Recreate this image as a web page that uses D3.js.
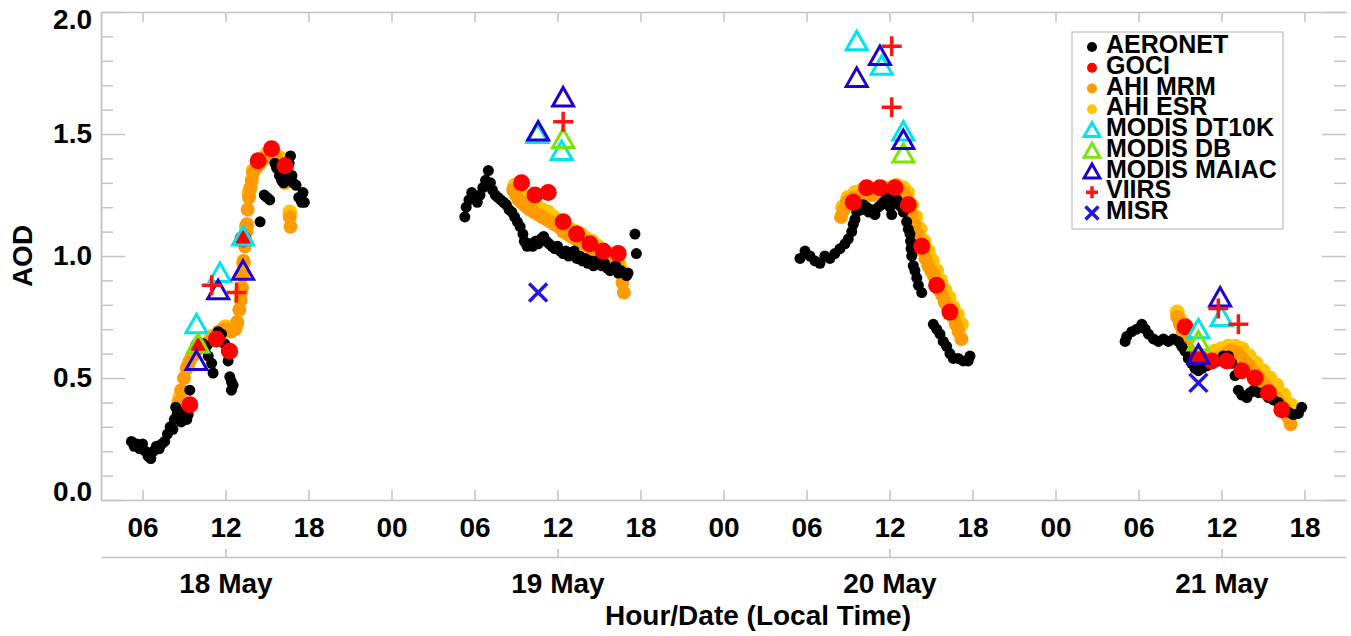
<!DOCTYPE html>
<html><head><meta charset="utf-8">
<script src="https://cdn.jsdelivr.net/npm/d3@7"></script>
<style>
html,body{margin:0;padding:0;background:#fff;}
svg text{font-family:"Liberation Sans",Arial,Helvetica,sans-serif;font-weight:bold;fill:#000;}
</style></head><body>
<svg id="c" width="1351" height="636"></svg>
<script>
// hours counted from 18 May 00:00 local time, AOD value
const aeronet = [
 [5.2,0.24],[5.4,0.22],[5.6,0.23],[5.8,0.21],[6.0,0.23],[6.2,0.20],[6.4,0.18],[6.6,0.17],[6.8,0.20],[7.0,0.22],
 [7.2,0.21],[7.4,0.23],[7.6,0.24],[7.8,0.27],[8.0,0.30],[8.2,0.29],[8.3,0.33],[8.4,0.38],[8.5,0.35],[8.7,0.36],
 [8.8,0.32],[9.0,0.34],[9.2,0.33],[9.3,0.35],[9.42,0.45],[10.38,0.64],[10.63,0.63],[10.75,0.59],[11.0,0.56],[11.1,0.52],
 [11.47,0.69],[11.71,0.68],[11.95,0.64],[12.07,0.61],[12.19,0.57],[12.31,0.505],[12.43,0.485],[12.55,0.47],[12.43,0.45],
 [14.5,1.14],[14.8,1.25],[15.0,1.24],[15.2,1.23],[15.57,1.38],[15.7,1.36],[15.9,1.33],[16.05,1.31],[16.2,1.30],[16.35,1.33],
 [16.5,1.32],[16.6,1.38],[16.7,1.41],[16.8,1.33],[16.9,1.30],[17.1,1.29],[17.3,1.24],[17.5,1.22],[17.6,1.26],[17.7,1.22],
 [29.3,1.16],[29.4,1.20],[29.6,1.23],[29.8,1.26],[30.0,1.24],[30.2,1.22],[30.4,1.25],[30.6,1.28],[30.8,1.31],[31.0,1.35],
 [31.15,1.30],[31.3,1.27],[31.5,1.25],[31.7,1.24],[31.9,1.23],[32.1,1.22],[32.3,1.21],[32.5,1.19],[32.7,1.18],[32.9,1.16],
 [33.1,1.14],[33.3,1.12],[33.5,1.09],[33.6,1.06],[33.8,1.04],[34.0,1.05],[34.2,1.04],[34.4,1.06],[34.6,1.05],[34.8,1.07],
 [35.0,1.08],[35.2,1.06],[35.4,1.05],[35.6,1.04],[35.8,1.03],[36.0,1.04],[36.2,1.02],[36.4,1.01],[36.6,1.02],[36.8,1.00],
 [37.0,1.01],[37.2,1.02],[37.4,0.99],[37.6,1.00],[37.8,0.98],[38.0,0.99],[38.2,0.97],[38.4,0.98],[38.6,0.96],[38.8,0.98],
 [39.0,0.97],[39.2,0.96],[39.4,0.97],[39.6,0.95],[39.8,0.94],[40.0,0.95],[40.2,0.96],[40.4,0.93],[40.6,0.94],[40.8,0.93],
 [41.0,0.92],[41.1,0.93],[41.6,1.09],[41.7,1.01],
 [53.53,0.99],[53.89,1.02],[54.25,1.00],[54.61,0.98],[54.97,0.97],[55.33,1.00],[55.69,0.99],[56.05,1.01],[56.42,1.03],[56.78,1.05],
 [57.02,1.07],[57.27,1.10],[57.38,1.13],[57.5,1.15],[57.63,1.18],[57.8,1.19],[57.99,1.19],[58.1,1.21],[58.35,1.20],[58.5,1.18],
 [58.71,1.19],[58.95,1.17],[59.19,1.20],[59.4,1.21],[59.55,1.22],[59.8,1.24],[60.04,1.20],[60.16,1.17],[60.3,1.24],[60.4,1.22],
 [60.55,1.23],[60.69,1.21],[60.85,1.20],[61.0,1.18],[61.24,1.14],[61.36,1.11],[61.48,1.09],[61.52,1.06],[61.56,1.03],[61.61,1.00],
 [61.72,0.96],[61.84,0.94],[61.97,0.91],[62.09,0.88],[62.33,0.85],[63.17,0.72],[63.41,0.70],[63.65,0.68],[63.89,0.65],[64.13,0.63],
 [64.37,0.60],[64.61,0.58],[64.97,0.58],[65.33,0.57],[65.69,0.57],[65.82,0.59],
 [77.03,0.65],[77.15,0.67],[77.51,0.69],[77.87,0.70],[78.24,0.72],[78.48,0.70],[78.72,0.68],[79.08,0.66],[79.44,0.65],[79.8,0.66],
 [80.16,0.65],[80.52,0.66],[80.88,0.65],[81.12,0.63],[81.36,0.61],[81.6,0.58],[81.84,0.56],[82.08,0.54],[82.33,0.53],[82.6,0.54],
 [82.94,0.55],[83.18,0.57],[83.42,0.57],[83.78,0.57],[84.14,0.59],[84.5,0.59],[84.75,0.56],[84.98,0.51],[85.22,0.45],[85.47,0.43],
 [85.83,0.42],[86.07,0.44],[86.31,0.45],[86.67,0.44],[87.03,0.44],[87.39,0.42],[87.75,0.41],[88.11,0.40],[88.48,0.38],[88.84,0.36],
 [89.2,0.35],[89.56,0.355],[89.8,0.38]
];
const goci = [
 [9.42,0.39],[10.05,0.63],[11.35,0.66],[12.3,0.61],[13.27,1.07],[14.36,1.39],[15.33,1.44],[16.3,1.37],
 [33.4,1.30],[34.37,1.25],[35.33,1.26],[36.41,1.14],[37.38,1.09],[38.34,1.05],[39.3,1.02],[40.39,1.01],
 [57.38,1.22],[58.35,1.28],[59.31,1.28],[60.4,1.28],[61.36,1.21],[62.33,1.04],[63.41,0.88],[64.37,0.77],
 [81.37,0.71],[82.33,0.59],[83.3,0.57],[84.38,0.57],[85.47,0.53],[86.43,0.50],[87.39,0.44],[88.36,0.37]
];
const ahiMrm = [
 [8.6,0.40],[8.8,0.45],[9.0,0.50],[9.2,0.54],[9.4,0.57],[9.6,0.59],[9.8,0.61],[10.0,0.62],[10.3,0.63],[10.6,0.64],
 [10.9,0.65],[11.2,0.67],[11.5,0.69],[11.8,0.70],[12.1,0.70],[12.4,0.69],[12.7,0.70],[12.85,0.73],[13.0,0.78],[13.1,0.82],
 [13.2,0.87],[13.25,0.92],[13.3,0.98],[13.4,1.04],[13.5,1.10],[13.55,1.13],[13.6,1.19],[13.7,1.24],[13.8,1.28],[13.9,1.31],
 [14.0,1.34],[14.2,1.36],[14.5,1.38],[14.8,1.40],[15.1,1.41],[15.4,1.41],[15.7,1.40],[16.0,1.38],[16.2,1.34],[16.3,1.30],
 [16.45,1.36],[16.65,1.16],[16.7,1.12],
 [32.8,1.27],[33.0,1.25],[33.2,1.23],[33.4,1.22],[33.6,1.21],[33.8,1.20],[34.0,1.19],[34.3,1.18],[34.6,1.17],[34.9,1.16],
 [35.2,1.15],[35.5,1.14],[35.8,1.13],[36.1,1.12],[36.4,1.10],[36.7,1.09],[37.0,1.08],[37.3,1.07],[37.6,1.06],[37.9,1.05],
 [38.2,1.04],[38.5,1.03],[38.8,1.01],[39.1,1.00],[39.4,0.99],[39.7,0.98],[40.0,0.97],[40.3,0.96],[40.55,0.93],[40.7,0.89],[40.8,0.85],
 [56.5,1.16],[56.7,1.19],[56.9,1.22],[57.1,1.23],[57.4,1.24],[57.7,1.24],[58.0,1.25],[58.3,1.26],[58.6,1.25],[58.9,1.25],
 [59.2,1.26],[59.5,1.26],[59.8,1.26],[60.1,1.27],[60.4,1.27],[60.7,1.27],[61.0,1.26],[61.2,1.24],[61.4,1.21],[61.6,1.17],
 [61.8,1.13],[62.0,1.09],[62.2,1.06],[62.4,1.02],[62.6,0.99],[62.8,0.96],[63.0,0.94],[63.2,0.92],[63.4,0.89],[63.6,0.86],
 [63.8,0.84],[64.0,0.81],[64.2,0.79],[64.4,0.77],[64.6,0.75],[64.8,0.72],[65.0,0.69],[65.2,0.66],
 [80.8,0.75],[81.0,0.72],[81.2,0.69],[81.4,0.66],[81.6,0.62],[81.9,0.59],[82.2,0.57],[82.5,0.56],[82.8,0.56],[83.1,0.57],
 [83.4,0.58],[83.7,0.58],[84.0,0.59],[84.3,0.60],[84.6,0.61],[84.9,0.61],[85.2,0.60],[85.5,0.58],[85.8,0.56],[86.1,0.54],
 [86.4,0.52],[86.7,0.50],[87.0,0.48],[87.3,0.46],[87.6,0.44],[87.9,0.42],[88.2,0.40],[88.5,0.37],[88.8,0.34],[89.0,0.31]
];
const ahiEsr = [
 [8.7,0.42],[9.3,0.55],[10.0,0.63],[11.0,0.67],[12.0,0.71],[12.8,0.72],[13.1,0.85],[13.3,0.97],[13.5,1.12],[13.7,1.26],
 [14.0,1.35],[14.5,1.39],[15.0,1.42],[15.5,1.42],[16.0,1.40],[16.4,1.39],[16.65,1.18],
 [32.9,1.29],[33.3,1.26],[33.7,1.24],[34.1,1.22],[34.5,1.20],[34.9,1.19],[35.3,1.18],[35.7,1.16],[36.1,1.14],[36.5,1.13],
 [36.9,1.11],[37.3,1.10],[37.7,1.09],[38.1,1.07],[38.5,1.06],[38.9,1.04],[39.3,1.02],[39.7,1.01],[40.1,0.99],[40.5,0.96],[40.8,0.92],
 [56.6,1.20],[57.0,1.24],[57.5,1.26],[58.0,1.27],[58.5,1.27],[59.0,1.27],[59.5,1.28],[60.0,1.28],[60.5,1.29],[61.0,1.28],
 [61.3,1.26],[61.6,1.21],[61.9,1.16],[62.2,1.11],[62.5,1.06],[62.8,1.02],[63.1,0.98],[63.4,0.94],[63.7,0.90],[64.0,0.86],
 [64.3,0.83],[64.6,0.79],[64.9,0.76],[65.2,0.72],
 [80.8,0.77],[81.0,0.74],[81.3,0.70],[82.4,0.58],[83.0,0.59],[83.5,0.61],[84.0,0.62],[84.5,0.63],[85.0,0.63],[85.5,0.62],
 [86.0,0.59],[86.5,0.56],[87.0,0.53],[87.5,0.50],[88.0,0.47],[88.5,0.43],[89.0,0.39],[89.3,0.36]
];
const modisDt10k = [[9.9,0.72],[11.6,0.93],[13.27,1.08],[34.55,1.50],[36.3,1.43],[57.63,1.88],[59.44,1.78],[61.0,1.51],[82.33,0.70],[84.0,0.75]];
const modisDb = [[10.02,0.64],[36.41,1.48],[61.0,1.42],[82.33,0.65]];
const modisMaiac = [[9.9,0.57],[11.47,0.86],[13.27,0.94],[34.6,1.51],[36.41,1.65],[57.63,1.73],[59.31,1.82],[61.0,1.475],[82.33,0.595],[83.9,0.83]];
const viirs = [[11.0,0.88],[12.8,0.85],[36.41,1.55],[60.16,1.86],[60.16,1.61],[83.77,0.785],[85.22,0.72]];
const misr = [[34.6,0.85],[82.33,0.48]];

const hourTicks = [6,12,18,24,30,36,42,48,54,60,66,72,78,84,90];
const hourLabels = ["06","12","18","00","06","12","18","00","06","12","18","00","06","12","18"];
const dateTicks = [12,36,60,84];
const dateLabels = ["18 May","19 May","20 May","21 May"];
const yMajorTicks = [0,0.5,1.0,1.5,2.0];
const yMinorTicks = [0.1,0.2,0.3,0.4,0.6,0.7,0.8,0.9,1.1,1.2,1.3,1.4,1.6,1.7,1.8,1.9];
const legendNames = ["AERONET","GOCI","AHI MRM","AHI ESR","MODIS DT10K","MODIS DB","MODIS MAIAC","VIIRS","MISR"];

const svg = d3.select("#c");
const x = d3.scaleLinear().domain([3,93]).range([101,1346]);
const y = d3.scaleLinear().domain([0,2]).range([500,12]);
const axisColor = "#c4c4c4";

function styleAxis(g){
  g.selectAll("path.domain").attr("stroke",axisColor).attr("stroke-width",1.5);
  g.selectAll(".tick line").attr("stroke",axisColor).attr("stroke-width",1.5);
  g.selectAll(".tick text").attr("font-size",28).attr("fill","#000");
}

// bottom hour axis
svg.append("g").attr("transform","translate(0,500)")
  .call(d3.axisBottom(x).tickValues(hourTicks).tickFormat((d,i)=>hourLabels[i])
    .tickSizeInner(-10).tickSizeOuter(0).tickPadding(17)).call(styleAxis);
// top axis
svg.append("g").attr("transform","translate(0,12)")
  .call(d3.axisTop(x).tickValues(hourTicks).tickFormat("")
    .tickSizeInner(-10).tickSizeOuter(0)).call(styleAxis);
// date axis
svg.append("g").attr("transform","translate(0,557)")
  .call(d3.axisBottom(x).tickValues(dateTicks).tickFormat((d,i)=>dateLabels[i])
    .tickSizeInner(-8).tickSizeOuter(0).tickPadding(16)).call(styleAxis);
// left axis
const ly = svg.append("g").attr("transform","translate(101,0)")
  .call(d3.axisLeft(y).tickValues(yMajorTicks).tickFormat(d3.format(".1f"))
    .tickSizeInner(-24).tickSizeOuter(0).tickPadding(9)).call(styleAxis);
ly.selectAll(".tick text").attr("transform",d=> d===0 ? "translate(0,-8)" : (d===2 ? "translate(0,8)" : null));
svg.append("g").attr("transform","translate(101,0)")
  .call(d3.axisLeft(y).tickValues(yMinorTicks).tickFormat("")
    .tickSizeInner(-12).tickSizeOuter(0)).call(styleAxis);
// right axis (ticks only)
svg.append("g").attr("transform","translate(1346,0)")
  .call(d3.axisRight(y).tickValues(yMajorTicks).tickFormat("").tickSizeInner(-24).tickSizeOuter(0))
  .call(styleAxis).call(g=>g.select(".domain").remove());
svg.append("g").attr("transform","translate(1346,0)")
  .call(d3.axisRight(y).tickValues(yMinorTicks).tickFormat("").tickSizeInner(-12).tickSizeOuter(0))
  .call(styleAxis).call(g=>g.select(".domain").remove());

// axis titles
svg.append("text").attr("transform","translate(32,256) rotate(-90)")
  .attr("text-anchor","middle").attr("font-size",28).text("AOD");
svg.append("text").attr("x",758).attr("y",625)
  .attr("text-anchor","middle").attr("font-size",28).text("Hour/Date (Local Time)");

// marks
const C = {aeronet:"#000000", goci:"#ff0000", mrm:"#ff9a00", esr:"#ffc400",
           dt:"#00e4f0", db:"#78e600", maiac:"#2000d0", viirs:"#ff1414", misr:"#2418dc"};
const triPath = s => `M0,${-s}L${s*1.05},${s*0.85}L${-s*1.05},${s*0.85}Z`;
const plusPath = s => `M${-s},0H${s}M0,${-s}V${s}`;
const xPath = s => `M${-s},${-s}L${s},${s}M${-s},${s}L${s},${-s}`;

function dots(data, color, r){
  svg.append("g").selectAll("circle").data(data).join("circle")
    .attr("cx",d=>x(d[0])).attr("cy",d=>y(d[1])).attr("r",r).attr("fill",color);
}
function shapes(data, color, path, sw){
  svg.append("g").selectAll("path").data(data).join("path")
    .attr("transform",d=>`translate(${x(d[0])},${y(d[1])})`)
    .attr("d",path).attr("fill","none").attr("stroke",color).attr("stroke-width",sw)
    .attr("stroke-linejoin","miter");
}
dots(ahiEsr, C.esr, 7.5);
dots(ahiMrm, C.mrm, 7);
dots(aeronet, C.aeronet, 5.5);
dots(goci, C.goci, 8.5);
shapes(modisDt10k, C.dt, triPath(10), 3);
shapes(modisDb, C.db, triPath(10), 3);
shapes(modisMaiac, C.maiac, triPath(10), 3);
shapes(viirs, C.viirs, plusPath(10), 3.5);
shapes(misr, C.misr, xPath(9), 3.5);

// legend
const lg = svg.append("g");
lg.append("rect").attr("x",1072).attr("y",32).attr("width",211).attr("height",197)
  .attr("fill","#fff").attr("stroke","#c0c0c0").attr("stroke-width",1.2);
const legendMarks = [
  {t:"dot", c:C.aeronet},{t:"dot", c:C.goci},{t:"dot", c:C.mrm},{t:"dot", c:C.esr},
  {t:"tri", c:C.dt},{t:"tri", c:C.db},{t:"tri", c:C.maiac},{t:"plus", c:C.viirs},{t:"x", c:C.misr}];
const rowY = i => 44 + i*20.75;
legendNames.forEach((name,i)=>{
  const m = legendMarks[i], cy = rowY(i)+3;
  if(m.t==="dot") lg.append("circle").attr("cx",1092).attr("cy",cy).attr("r",5).attr("fill",m.c);
  else {
    const p = m.t==="tri" ? triPath(7.5) : (m.t==="plus" ? plusPath(6) : xPath(6.5));
    lg.append("path").attr("transform",`translate(1092,${cy})`).attr("d",p)
      .attr("fill","none").attr("stroke",m.c).attr("stroke-width",m.t==="tri"?3:3.5);
  }
  lg.append("text").attr("x",1106).attr("y",rowY(i)+9).attr("font-size",25).text(name);
});
</script>
</body></html>
